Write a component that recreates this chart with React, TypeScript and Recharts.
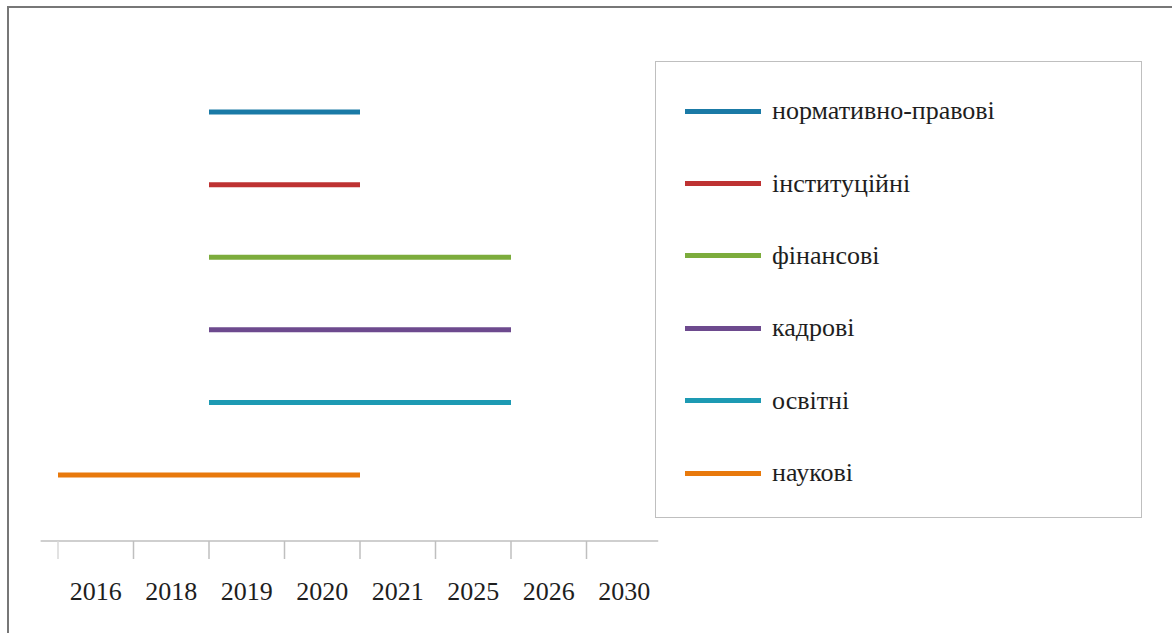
import React from 'react';
import { LineChart, Line, XAxis, YAxis, ReferenceLine, Legend } from 'recharts';

const categories = ['2016', '2018', '2019', '2020', '2021', '2025', '2026', '2030'];
const seriesNames = ['нормативно-правові', 'інституційні', 'фінансові', 'кадрові', 'освітні', 'наукові'];
const seriesColors = ['#1a7aa6', '#be3232', '#7cac3c', '#6d4a8e', '#1d9ab3', '#e8790c'];
const startIndex = [2, 2, 2, 2, 2, 0];
const endIndex = [4, 4, 6, 6, 6, 4];
const levels = [6, 5, 4, 3, 2, 1];

const yDomain: [number, number] = [0.09, 6.69];
const FONT = "'Liberation Serif', 'Times New Roman', serif";

const tickValues: number[] = [];
categories.forEach((_, i) => {
  tickValues.push(i);
  tickValues.push(i + 0.5);
});

const AxisTick = (props: any) => {
  const { x, y, payload } = props;
  const v = payload.value as number;
  if (Number.isInteger(v)) {
    return (
      <line x1={x} y1={y} x2={x} y2={y + 18} stroke={v === 0 ? '#d9d9d9' : '#bfbfbf'} strokeWidth={1.5} />
    );
  }
  return (
    <text x={x} y={y + 59} textAnchor="middle" fontSize={26} fill="#1e1e1e" fontFamily={FONT}>
      {categories[Math.floor(v)]}
    </text>
  );
};

const LegendContent = () => (
  <div style={{ paddingTop: 13, fontFamily: FONT }}>
    {seriesNames.map((n, i) => (
      <div key={n} style={{ height: 72.4, display: 'flex', alignItems: 'center' }}>
        <div style={{ marginLeft: 29, width: 76, height: 5, background: seriesColors[i] }} />
        <span style={{ marginLeft: 11, fontSize: 26, color: '#1e1e1e', lineHeight: 1, fontFamily: FONT }}>{n}</span>
      </div>
    ))}
  </div>
);

export default function App() {
  return (
    <div
      style={{
        position: 'absolute',
        left: 0,
        top: 0,
        width: 1172,
        height: 633,
        overflow: 'hidden',
        background: '#fff',
        fontFamily: FONT,
      }}
    >
      <div
        style={{
          position: 'absolute',
          left: 7,
          top: 6,
          width: 1300,
          height: 800,
          border: '2px solid #777',
        }}
      />
      <div style={{ position: 'absolute', left: 0, top: 0 }}>
        <LineChart width={1172} height={633} margin={{ top: 62, left: 58, right: 510, bottom: 0 }}>
          <XAxis
            type="number"
            dataKey="x"
            domain={[0, 8]}
            ticks={tickValues}
            interval={0}
            axisLine={false}
            tickLine={false}
            tickSize={0}
            tickMargin={0}
            height={92}
            tick={<AxisTick />}
            allowDataOverflow
          />
          <YAxis
            type="number"
            domain={yDomain}
            width={0}
            tick={false}
            tickLine={false}
            axisLine={{ stroke: '#d9d9d9', strokeWidth: 1.5 }}
            allowDataOverflow
          />
          <ReferenceLine
            segment={[
              { x: -0.23, y: yDomain[0] },
              { x: 7.95, y: yDomain[0] },
            ]}
            stroke="#bfbfbf"
            strokeWidth={1.5}
            ifOverflow="visible"
          />
          {seriesNames.map((name, i) => (
            <Line
              key={name}
              name={name}
              data={[
                { x: startIndex[i], y: levels[i] },
                { x: endIndex[i], y: levels[i] },
              ]}
              dataKey="y"
              stroke={seriesColors[i]}
              strokeWidth={5}
              dot={false}
              activeDot={false}
              isAnimationActive={false}
            />
          ))}
          <Legend
            layout="vertical"
            align="center"
            verticalAlign="middle"
            content={<LegendContent />}
            wrapperStyle={{
              position: 'absolute',
              left: 655,
              top: 61,
              width: 487,
              height: 457,
              border: '1.5px solid #bfbfbf',
              boxSizing: 'border-box',
              background: '#fff',
            }}
          />
        </LineChart>
      </div>
    </div>
  );
}
